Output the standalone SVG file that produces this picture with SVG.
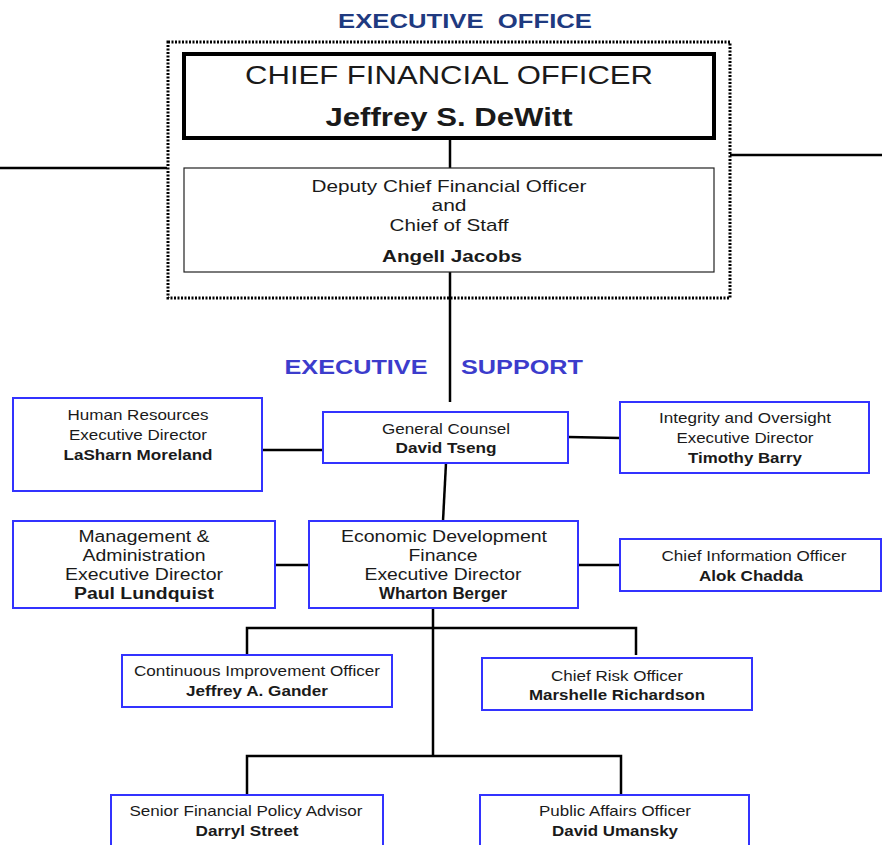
<svg xmlns="http://www.w3.org/2000/svg" width="882" height="845" viewBox="0 0 882 845">
<style>
text{font-family:"Liberation Sans",Arial,sans-serif;fill:#1a1a1a;text-anchor:middle}
.b{font-weight:bold}
.box{fill:#fff;stroke:#3333ff;stroke-width:2}
.con{stroke:#000;stroke-width:2.5;fill:none}
.hd{font-weight:bold;font-size:21px}
.s15{font-size:15px}
.s16{font-size:16px}
.n{font-size:15px}
</style>
<rect width="882" height="845" fill="#fff"/>
<text class="hd" x="465" y="28" style="fill:#1f3a80" textLength="254" lengthAdjust="spacingAndGlyphs" xml:space="preserve">EXECUTIVE  OFFICE</text>
<text class="hd" x="356" y="374" style="fill:#3c3ccc" textLength="143" lengthAdjust="spacingAndGlyphs">EXECUTIVE</text>
<text class="hd" x="522" y="374" style="fill:#3c3ccc" textLength="122" lengthAdjust="spacingAndGlyphs">SUPPORT</text>
<g id="connectors">
<line class="con" x1="0" y1="168" x2="167" y2="168"/>
<line class="con" x1="730" y1="155" x2="882" y2="155"/>
<line class="con" x1="450" y1="138" x2="450" y2="168"/>
<line class="con" x1="450" y1="272" x2="450" y2="402"/>
<line class="con" x1="262" y1="450" x2="324" y2="450"/>
<line class="con" x1="568" y1="437" x2="620" y2="438"/>
<line class="con" x1="446" y1="463" x2="443" y2="521"/>
<line class="con" x1="275" y1="565" x2="309" y2="565"/>
<line class="con" x1="578" y1="565" x2="620" y2="565"/>
<line class="con" x1="433" y1="609" x2="433" y2="756"/>
<polyline class="con" points="247,655 247,628 636,628 636,655"/>
<polyline class="con" points="247,795 247,756 621,756 621,795"/>
</g>
<g id="executive-office">
<rect x="168" y="42" width="562" height="256" fill="none" stroke="#000" stroke-width="3" stroke-dasharray="2,1.5"/>
</g>
<g id="cfo">
<rect x="184" y="54" width="530" height="84" fill="#fff" stroke="#000" stroke-width="4"/>
<text x="449" y="84" style="font-size:26px" textLength="408" lengthAdjust="spacingAndGlyphs">CHIEF FINANCIAL OFFICER</text>
<text class="b" x="449" y="126" style="font-size:26px" textLength="247" lengthAdjust="spacingAndGlyphs">Jeffrey S. DeWitt</text>
</g>
<g id="deputy">
<rect x="184" y="168" width="530" height="104" fill="#fff" stroke="#222" stroke-width="1.2"/>
<text class="s16" x="449" y="192" style="font-size:17px" textLength="275" lengthAdjust="spacingAndGlyphs">Deputy Chief Financial Officer</text>
<text class="s16" x="449" y="211" style="font-size:17px" textLength="35" lengthAdjust="spacingAndGlyphs">and</text>
<text class="s16" x="449" y="231" style="font-size:17px" textLength="119" lengthAdjust="spacingAndGlyphs">Chief of Staff</text>
<text class="s16 b" x="452" y="262" style="font-size:17px" textLength="140" lengthAdjust="spacingAndGlyphs">Angell Jacobs</text>
</g>
<g id="hr">
<rect class="box" x="13" y="398" width="249" height="93"/>
<text class="s15" x="138" y="420" textLength="141" lengthAdjust="spacingAndGlyphs">Human Resources</text>
<text class="s15" x="138" y="440" textLength="138" lengthAdjust="spacingAndGlyphs">Executive Director</text>
<text class="s15 b" x="138" y="460" textLength="149" lengthAdjust="spacingAndGlyphs">LaSharn Moreland</text>
</g>
<g id="general-counsel">
<rect class="box" x="323" y="412" width="245" height="51"/>
<text class="s15" x="446" y="434" textLength="128" lengthAdjust="spacingAndGlyphs">General Counsel</text>
<text class="s15 b" x="446" y="453" textLength="101" lengthAdjust="spacingAndGlyphs">David Tseng</text>
</g>
<g id="integrity">
<rect class="box" x="620" y="402" width="249" height="71"/>
<text class="s15" x="745" y="423" textLength="172" lengthAdjust="spacingAndGlyphs">Integrity and Oversight</text>
<text class="s15" x="745" y="443" textLength="137" lengthAdjust="spacingAndGlyphs">Executive Director</text>
<text class="s15 b" x="745" y="463" textLength="114" lengthAdjust="spacingAndGlyphs">Timothy Barry</text>
</g>
<g id="management">
<rect class="box" x="13" y="521" width="262" height="87"/>
<text class="s16" x="144" y="542" textLength="131" lengthAdjust="spacingAndGlyphs">Management &amp;</text>
<text class="s16" x="144" y="561" textLength="123" lengthAdjust="spacingAndGlyphs">Administration</text>
<text class="s16" x="144" y="580" textLength="158" lengthAdjust="spacingAndGlyphs">Executive Director</text>
<text class="s16 b" x="144" y="599" textLength="140" lengthAdjust="spacingAndGlyphs">Paul Lundquist</text>
</g>
<g id="economic-development">
<rect class="box" x="309" y="521" width="269" height="87"/>
<text class="s16" x="444" y="542" textLength="206" lengthAdjust="spacingAndGlyphs">Economic Development</text>
<text class="s16" x="443" y="561" textLength="69" lengthAdjust="spacingAndGlyphs">Finance</text>
<text class="s16" x="443" y="580" textLength="157" lengthAdjust="spacingAndGlyphs">Executive Director</text>
<text class="s16 b" x="443" y="599" textLength="128" lengthAdjust="spacingAndGlyphs">Wharton Berger</text>
</g>
<g id="cio">
<rect class="box" x="620" y="539" width="261" height="52"/>
<text class="s15" x="754" y="561" textLength="185" lengthAdjust="spacingAndGlyphs">Chief Information Officer</text>
<text class="s15 b" x="751" y="581" textLength="104" lengthAdjust="spacingAndGlyphs">Alok Chadda</text>
</g>
<g id="continuous-improvement">
<rect class="box" x="122" y="655" width="270" height="52"/>
<text class="n" x="257" y="676" textLength="246" lengthAdjust="spacingAndGlyphs">Continuous Improvement Officer</text>
<text class="n b" x="257" y="696" textLength="142" lengthAdjust="spacingAndGlyphs">Jeffrey A. Gander</text>
</g>
<g id="chief-risk">
<rect class="box" x="482" y="658" width="270" height="52"/>
<text class="n" x="617" y="681" textLength="132" lengthAdjust="spacingAndGlyphs">Chief Risk Officer</text>
<text class="n b" x="617" y="700" textLength="176" lengthAdjust="spacingAndGlyphs">Marshelle Richardson</text>
</g>
<g id="senior-policy">
<rect class="box" x="111" y="795" width="272" height="60"/>
<text class="n" x="246" y="816" textLength="233" lengthAdjust="spacingAndGlyphs">Senior Financial Policy Advisor</text>
<text class="n b" x="247" y="836" textLength="103" lengthAdjust="spacingAndGlyphs">Darryl Street</text>
</g>
<g id="public-affairs">
<rect class="box" x="480" y="795" width="269" height="60"/>
<text class="n" x="615" y="816" textLength="152" lengthAdjust="spacingAndGlyphs">Public Affairs Officer</text>
<text class="n b" x="615" y="836" textLength="126" lengthAdjust="spacingAndGlyphs">David Umansky</text>
</g>
</svg>
